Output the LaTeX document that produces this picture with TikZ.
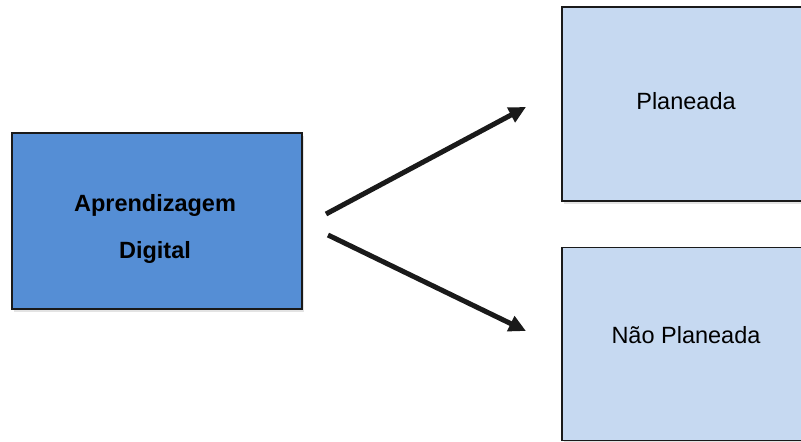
\documentclass[tikz,border=0pt]{standalone}
\usepackage{fontspec}
\setmainfont{Liberation Sans}
\usetikzlibrary{arrows.meta,shadows}
\definecolor{darkblue}{HTML}{558ED5}
\definecolor{lightblue}{HTML}{C6D9F1}
\definecolor{edge}{HTML}{1A1A1A}
\tikzset{
  box/.style={draw=edge, line width=1.8pt, rectangle, inner sep=0pt,
    drop shadow={opacity=0.22, shadow xshift=1.5pt, shadow yshift=-3pt}},
  bluebox/.style={box, fill=darkblue},
  paleboxstyle/.style={box, fill=lightblue},
  lbl/.style={font=\fontsize{23.5}{28}\selectfont, anchor=base, inner sep=0pt},
  boldlbl/.style={lbl, font=\fontsize{23.5}{28}\selectfont\bfseries},
  conn/.style={draw=edge, line width=5pt, -{Triangle[length=17pt,width=16pt]}}
}
\begin{document}
\begin{tikzpicture}[x=1pt,y=1pt]
\useasboundingbox (0,0) rectangle (801,-442);
\fill[white] (0,0) rectangle (801,-442);
\node[bluebox, minimum width=290, minimum height=176] (src) at (157,-221) {};
\node[boldlbl] (srcA) at (155,-211) {Aprendizagem};
\node[boldlbl] (srcB) at (155,-258) {Digital};
\node[paleboxstyle, minimum width=250, minimum height=194] (top) at (687,-104) {};
\node[lbl] (topT) at (686,-109) {Planeada};
\node[paleboxstyle, minimum width=250, minimum height=193] (bot) at (687,-344) {};
\node[lbl] (botT) at (686,-343) {Não Planeada};
\coordinate (a1s) at (326,-214);
\coordinate (a1e) at (526,-107);
\coordinate (a2s) at (328,-235);
\coordinate (a2e) at (526,-331);
\draw[conn] (a1s) -- (a1e);
\draw[conn] (a2s) -- (a2e);
\end{tikzpicture}
\end{document}
